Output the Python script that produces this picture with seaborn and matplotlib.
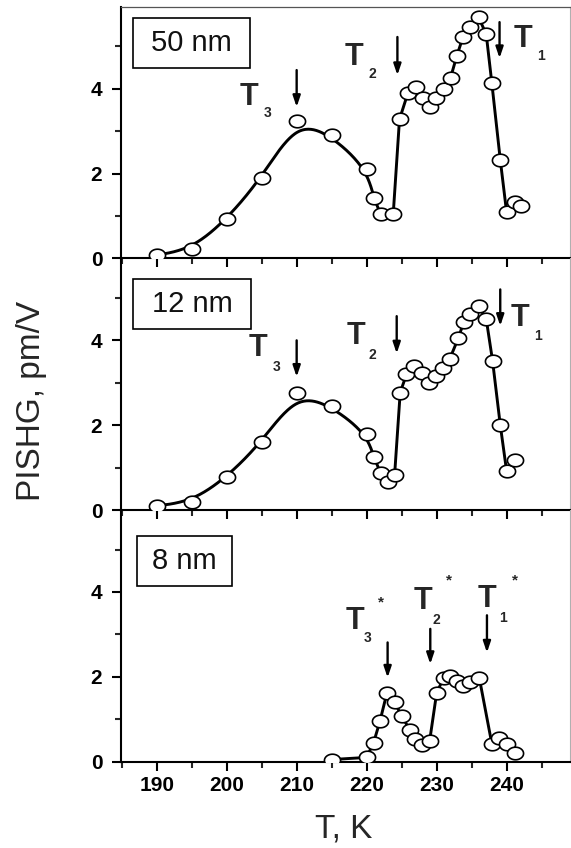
import numpy as np
import pandas as pd
import matplotlib
matplotlib.use("Agg")
import matplotlib.pyplot as plt
from matplotlib.path import Path
from matplotlib.patches import Rectangle
from matplotlib.ticker import MultipleLocator
import seaborn as sns

# ---- measured SHG response, one series per film thickness ----
T_50 = [190, 195, 200, 205, 210, 215, 220, 221, 222, 223.8, 224.7, 225.9, 227.0, 228.0,
        229.0, 229.9, 231.0, 232.0, 232.9, 233.8, 234.8, 236.0, 237.1, 237.9, 239.1,
        240.0, 241.2, 242.0]
P_50 = [0.08, 0.22, 0.92, 1.90, 3.25, 2.90, 2.12, 1.43, 1.05, 1.04, 3.28, 3.90, 4.03, 3.79,
        3.57, 3.78, 3.99, 4.26, 4.78, 5.23, 5.46, 5.69, 5.28, 4.13, 2.33,
        1.10, 1.33, 1.24]

T_12 = [190, 195, 200, 205, 210, 215, 220, 221, 222, 223, 224, 224.8, 225.7, 226.8,
        227.9, 228.9, 229.9, 230.9, 231.9, 233.1, 233.9, 234.8, 236.0, 237.1, 238.0,
        239.1, 240.0, 241.2]
P_12 = [0.10, 0.20, 0.77, 1.60, 2.75, 2.45, 1.80, 1.25, 0.88, 0.65, 0.83, 2.77, 3.20, 3.40,
        3.22, 3.00, 3.16, 3.36, 3.57, 4.05, 4.44, 4.62, 4.81, 4.50, 3.52,
        2.01, 0.93, 1.18]

T_8 = [215, 220, 221, 221.9, 222.9, 224.0, 225.0, 226.2, 226.9, 227.9, 229.0, 230.0,
       231.0, 231.9, 232.9, 233.8, 234.8, 236.1, 237.9, 238.9, 240.0, 241.2]
P_8 = [0.05, 0.10, 0.45, 0.95, 1.62, 1.41, 1.07, 0.75, 0.53, 0.40, 0.48, 1.61,
       1.98, 2.02, 1.90, 1.78, 1.88, 1.98, 0.42, 0.56, 0.42, 0.20]

# transition temperatures marked with arrows (T3, T2, T1)
TRANS_50 = [210.0, 224.4, 239.0]
TRANS_12 = [210.0, 224.3, 239.1]
TRANS_8 = [223.0, 229.1, 237.2]

THICKNESS = ["50 nm", "12 nm", "8 nm"]
X_TICKS = [190, 200, 210, 220, 230, 240]
Y_TICKS = [0, 2, 4]

XLIM = (184.9, 249.05)
YLIM = (0, 5.93)

sns.set_style("ticks")
plt.rcParams["font.family"] = ["Liberation Sans", "DejaVu Sans"]


def bspline(xs, ys, n=40):
    """Uniform cubic B-spline using the points as control points (clamped ends)."""
    px = np.r_[xs[0], xs[0], xs, xs[-1], xs[-1]].astype(float)
    py = np.r_[ys[0], ys[0], ys, ys[-1], ys[-1]].astype(float)
    t = np.linspace(0, 1, n)
    b0 = (1 - t) ** 3 / 6
    b1 = (3 * t ** 3 - 6 * t ** 2 + 4) / 6
    b2 = (-3 * t ** 3 + 3 * t ** 2 + 3 * t + 1) / 6
    b3 = t ** 3 / 6
    cx, cy = [], []
    for i in range(len(px) - 3):
        cx.append(b0 * px[i] + b1 * px[i + 1] + b2 * px[i + 2] + b3 * px[i + 3])
        cy.append(b0 * py[i] + b1 * py[i + 1] + b2 * py[i + 2] + b3 * py[i + 3])
    return np.concatenate(cx), np.concatenate(cy)


# slightly flattened open circle used for the data points
theta = np.linspace(0, 2 * np.pi, 65)
ELLIPSE = Path(np.c_[np.cos(theta), 0.78 * np.sin(theta)], closed=True)

panels = [
    dict(T=T_50, P=P_50, smooth_to=8, trans=TRANS_50, label=THICKNESS[0],
         box=(0.027, 0.756, 0.261, 0.199), box_text=(0.157, 0.856),
         arrows=[(4.44, 3.57), (5.22, 4.32), (5.57, 4.72)],
         tlabels=[(203.2, 3.62, "3", 205.8, 3.33), (218.2, 4.56, "2", 220.75, 4.25),
                  (242.3, 4.98, "1", 244.97, 4.68)],
         stars=None),
    dict(T=T_12, P=P_12, smooth_to=8, trans=TRANS_12, label=THICKNESS[1],
         box=(0.026, 0.720, 0.263, 0.198), box_text=(0.158, 0.819),
         arrows=[(4.0, 3.14), (4.57, 3.69), (5.2, 4.34)],
         tlabels=[(204.5, 3.62, "3", 207.2, 3.27), (218.5, 3.91, "2", 220.75, 3.55),
                  (241.9, 4.33, "1", 244.5, 4.02)],
         stars=None),
    dict(T=T_8, P=P_8, smooth_to=None, trans=TRANS_8, label=THICKNESS[2],
         box=(0.036, 0.698, 0.212, 0.199), box_text=(0.142, 0.798),
         arrows=[(2.81, 1.98), (3.13, 2.30), (3.45, 2.57)],
         tlabels=[(218.3, 3.13, "3", 220.2, 2.82), (228.1, 3.60, "2", 230.0, 3.25),
                  (237.2, 3.65, "1", 239.5, 3.29)],
         stars=[(222.1, 3.76), (231.7, 4.26), (241.2, 4.28)]),
]

fig = plt.figure(figsize=(5.71, 8.48), dpi=100)
left, width, height = 0.212, 0.786, 0.2967
bottoms = [0.6952, 0.3985, 0.1018]

for k, (spec, b) in enumerate(zip(panels, bottoms)):
    ax = fig.add_axes([left, b, width, height])
    ax.patch.set_visible(False)
    df = pd.DataFrame({"T": spec["T"], "P": spec["P"]})

    # connecting curve: smooth B-spline on the low-temperature side, straight segments after
    if spec["smooth_to"] is not None:
        s = spec["smooth_to"]
        cx, cy = bspline(df["T"].values[: s + 1], df["P"].values[: s + 1])
        sns.lineplot(x=cx, y=cy, ax=ax, color="black", linewidth=2.1,
                     sort=False, estimator=None, zorder=2)
        rest = df.iloc[s:]
    else:
        rest = df
    sns.lineplot(data=rest, x="T", y="P", ax=ax, color="black", linewidth=2.1,
                 sort=False, estimator=None, zorder=2)

    sns.scatterplot(data=df, x="T", y="P", ax=ax, marker=ELLIPSE, s=135,
                    color="white", edgecolor="black", linewidth=1.2, zorder=3)

    # transition arrows and labels
    for t_tr, (y0, y1) in zip(spec["trans"], spec["arrows"]):
        ax.annotate("", xy=(t_tr, y1), xytext=(t_tr, y0),
                    arrowprops=dict(arrowstyle="-|>,head_length=0.65,head_width=0.22",
                                    lw=1.7, color="black", shrinkA=0, shrinkB=0),
                    zorder=4)
    for (tx, ty, sub, sx, sy) in spec["tlabels"]:
        ax.text(tx, ty, "T", fontsize=22, fontweight="bold", ha="center", va="baseline")
        ax.text(sx, sy, sub, fontsize=10, fontweight="bold", ha="center", va="baseline")
    if spec["stars"]:
        for (sx, sy) in spec["stars"]:
            ax.text(sx, sy, "*", fontsize=11, fontweight="bold", ha="center", va="center")

    # thickness label in a framed box
    bx, by, bw, bh = spec["box"]
    ax.add_patch(Rectangle((bx, by), bw, bh, transform=ax.transAxes, fill=False,
                           edgecolor="black", linewidth=1.2, zorder=5))
    ax.text(spec["box_text"][0], spec["box_text"][1], spec["label"], transform=ax.transAxes,
            fontsize=21, ha="center", va="center", color="#111111")

    ax.set_xlim(*XLIM)
    ax.set_ylim(*YLIM)
    ax.set_xticks(X_TICKS)
    ax.xaxis.set_minor_locator(MultipleLocator(5))
    ax.set_yticks(Y_TICKS)
    ax.yaxis.set_minor_locator(MultipleLocator(1))
    ax.tick_params(axis="both", which="major", direction="out", length=6.5, width=1.5,
                   labelsize=15, colors="black")
    ax.tick_params(axis="both", which="minor", direction="out", length=4.2, width=1.5)
    ax.tick_params(axis="y", which="major", pad=7)
    ax.tick_params(axis="x", which="major", pad=4)
    if k < 2:
        ax.tick_params(axis="x", which="both", labelbottom=False)
    for lbl in ax.get_xticklabels() + ax.get_yticklabels():
        lbl.set_fontweight("heavy")
    ax.set_xlabel("")
    ax.set_ylabel("")

    for side in ("left", "bottom"):
        ax.spines[side].set_linewidth(1.5)
        ax.spines[side].set_color("black")
    ax.spines["right"].set_linewidth(0.8)
    ax.spines["right"].set_color("#b0b0b0")
    if k == 0:
        ax.spines["top"].set_linewidth(0.9)
        ax.spines["top"].set_color("#555555")
    else:
        ax.spines["top"].set_visible(False)

fig.text(0.056, 0.527, "PISHG, pm/V", rotation=90, fontsize=24, ha="center", va="center")
fig.text(0.602, 0.012, "T, K", fontsize=24, ha="center", va="baseline")

fig.savefig("out.png", dpi=100)
